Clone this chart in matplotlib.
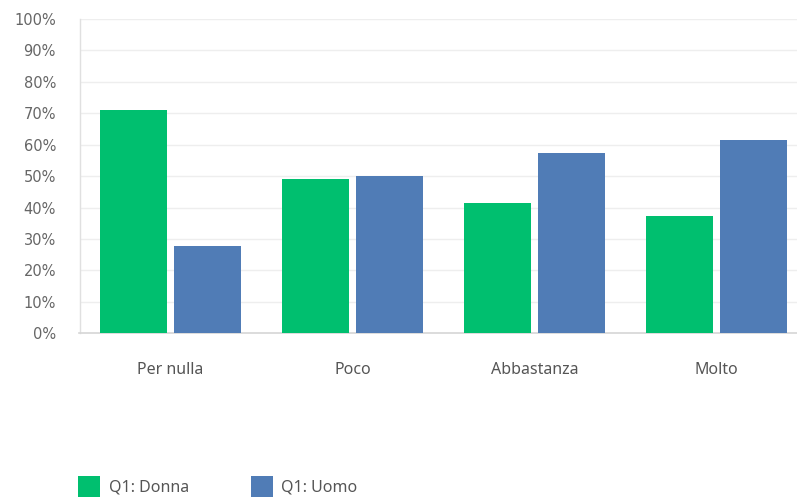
import matplotlib
matplotlib.use("Agg")
import matplotlib.pyplot as plt
from matplotlib.patches import Patch
from matplotlib.ticker import FuncFormatter
import numpy as np

categories = ["Per nulla", "Poco", "Abbastanza", "Molto"]
donna = [71.0, 49.0, 41.6, 37.3]
uomo = [27.8, 50.0, 57.3, 61.5]
series_labels = ["Q1: Donna", "Q1: Uomo"]
yticks = list(range(0, 101, 10))

GREEN = "#00bf6f"
BLUE = "#507cb6"

fig = plt.figure(figsize=(7.97, 4.98), dpi=100)
ax = fig.add_axes([79.5 / 797, 1 - 333.3 / 498, 728 / 797, 314.3 / 498])

x = np.arange(len(categories))
w = 0.366
off = 0.2025
ax.bar(x - off, donna, width=w, color=GREEN, zorder=3)
ax.bar(x + off, uomo, width=w, color=BLUE, zorder=3)

ax.set_xlim(-0.5, 3.5)
ax.set_ylim(0, 100)
ax.set_yticks(yticks)
ax.yaxis.set_major_formatter(FuncFormatter(lambda v, p: f"{int(v)}%"))
ax.set_xticks(x)
ax.set_xticklabels(categories, fontfamily="Noto Sans", fontsize=11.5, color="#555555")
for lab in ax.get_yticklabels():
    lab.set_fontfamily("DejaVu Sans")
    lab.set_fontsize(10.5)
    lab.set_color("#666666")

ax.grid(axis="y", color="#eeeeee", linewidth=1, zorder=0)
ax.tick_params(axis="both", length=0)
ax.tick_params(axis="y", pad=17)
ax.tick_params(axis="x", pad=21)
for s in ["top", "right"]:
    ax.spines[s].set_visible(False)
ax.spines["left"].set_color("#e0e0e0")
ax.spines["bottom"].set_color("#d6d6d6")
ax.spines["left"].set_linewidth(1)
ax.spines["bottom"].set_linewidth(1.2)

handles = [Patch(facecolor=GREEN, edgecolor="none"), Patch(facecolor=BLUE, edgecolor="none")]
fig.legend(handles, series_labels, loc="lower left", bbox_to_anchor=(64 / 797, -13 / 498),
           ncol=2, frameon=False, handlelength=1.35, handleheight=1.6, handletextpad=0.55,
           columnspacing=3.9, prop={"family": "Noto Sans", "size": 11.5}, labelcolor="#555555")

fig.savefig("out.png", dpi=100)
